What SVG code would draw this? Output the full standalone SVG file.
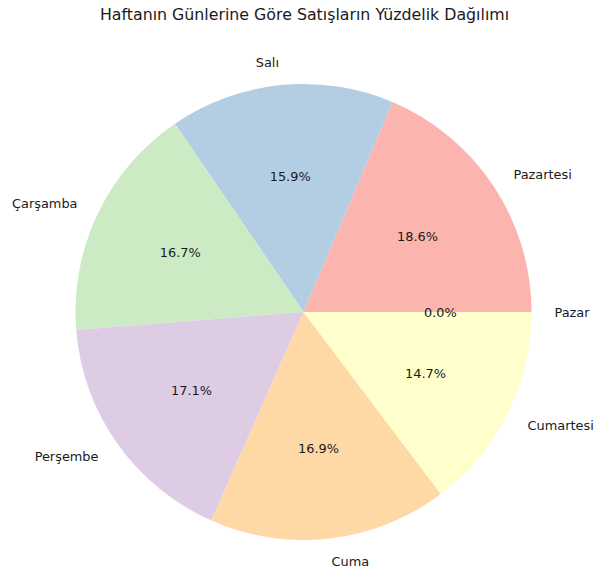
<svg xmlns="http://www.w3.org/2000/svg" width="595" height="576" viewBox="0 0 595 576">
<style>
text{font-family:"DejaVu Sans",sans-serif;fill:#1a1a1a}
.lbl{font-size:12.9px;dominant-baseline:central}
.pct{font-size:12.9px;text-anchor:middle;dominant-baseline:central}
.title{font-size:15.8px;text-anchor:middle}
</style>
<rect width="595" height="576" fill="#ffffff"/>
<text class="title" x="304.5" y="20">Haftanın Günlerine Göre Satışların Yüzdelik Dağılımı</text>
<g id="wedges">
<g id="pazartesi"><path d="M303.5,312 L531.5,312 A228,228 0 0 0 392.5,102.1 Z" fill="#fbb4ae"/></g>
<g id="sali"><path d="M303.5,312 L392.5,102.1 A228,228 0 0 0 174.9,123.7 Z" fill="#b3cde3"/></g>
<g id="carsamba"><path d="M303.5,312 L174.9,123.7 A228,228 0 0 0 76.2,329.9 Z" fill="#ccebc5"/></g>
<g id="persembe"><path d="M303.5,312 L76.2,329.9 A228,228 0 0 0 211.3,520.5 Z" fill="#decbe4"/></g>
<g id="cuma"><path d="M303.5,312 L211.3,520.5 A228,228 0 0 0 440.8,494.1 Z" fill="#fed9a6"/></g>
<g id="cumartesi"><path d="M303.5,312 L440.8,494.1 A228,228 0 0 0 531.5,312 Z" fill="#ffffcc"/></g>
</g>
<g id="labels">
<text class="lbl" x="513.5" y="174" text-anchor="start">Pazartesi</text>
<text class="lbl" x="279" y="62" text-anchor="end">Salı</text>
<text class="lbl" x="77.5" y="203.5" text-anchor="end">Çarşamba</text>
<text class="lbl" x="98.5" y="456.5" text-anchor="end">Perşembe</text>
<text class="lbl" x="331.5" y="561" text-anchor="start">Cuma</text>
<text class="lbl" x="527.5" y="425" text-anchor="start">Cumartesi</text>
<text class="lbl" x="554.5" y="312" text-anchor="start">Pazar</text>
</g>
<g id="percents">
<text class="pct" x="417.6" y="236.5">18.6%</text>
<text class="pct" x="290.2" y="176">15.9%</text>
<text class="pct" x="180.3" y="252.6">16.7%</text>
<text class="pct" x="191.6" y="390.7">17.1%</text>
<text class="pct" x="318.5" y="448">16.9%</text>
<text class="pct" x="425.6" y="373.7">14.7%</text>
<text class="pct" x="440.3" y="312">0.0%</text>
</g>
</svg>
